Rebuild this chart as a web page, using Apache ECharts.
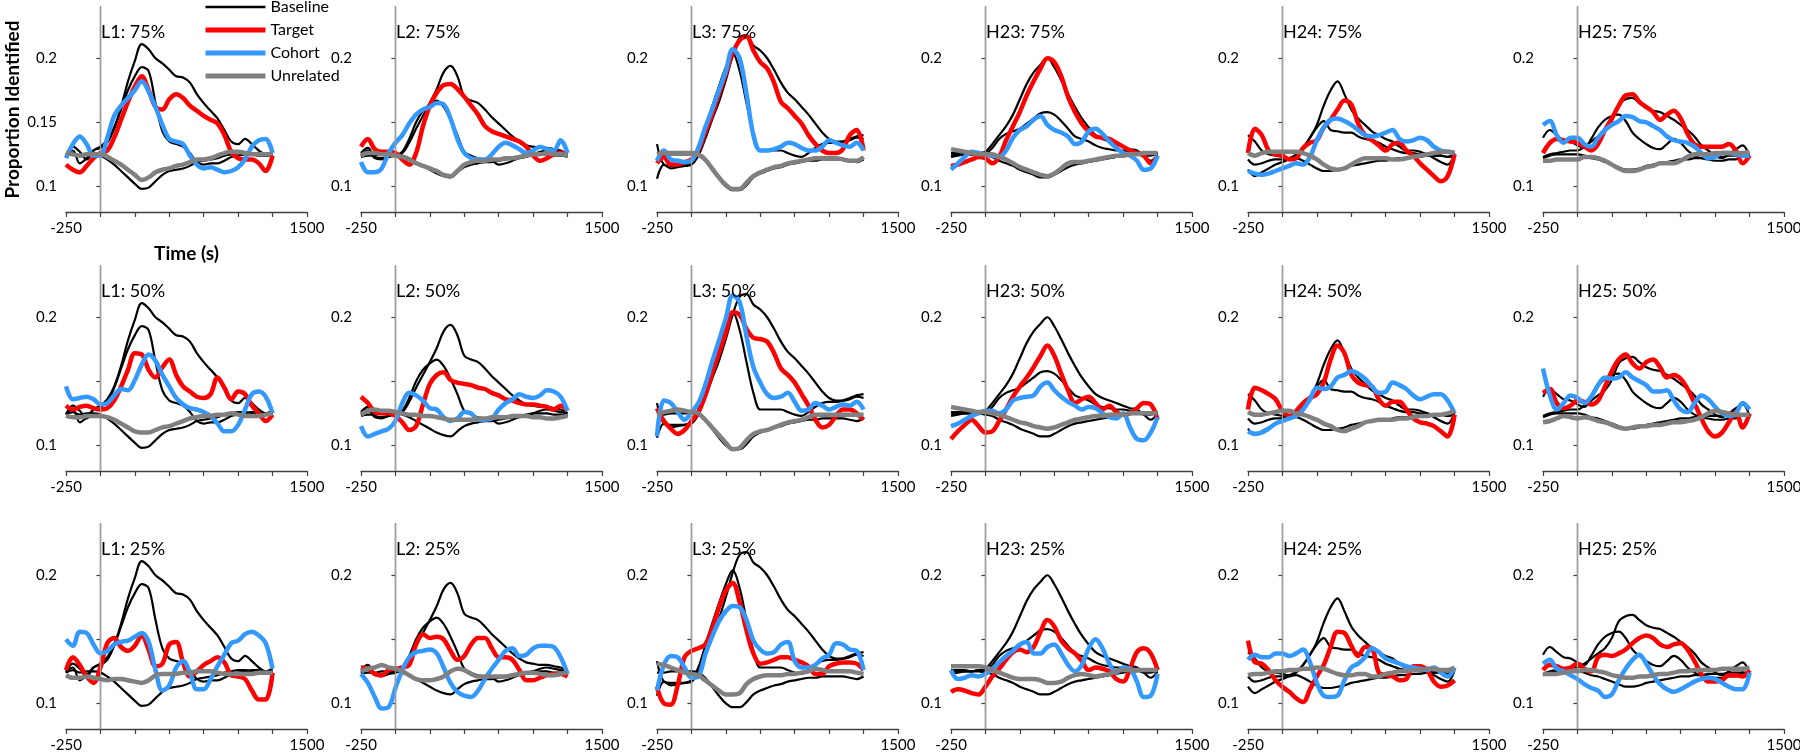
<!DOCTYPE html>
<html><head><meta charset="utf-8">
<script src="https://cdn.jsdelivr.net/npm/echarts@6/dist/echarts.min.js"></script>
<style>html,body{margin:0;padding:0;background:#fff;} #chart{width:1800px;height:752px;}</style>
</head><body><div id="chart"></div>
<script>
const timeMs = [-250,-200,-150,-100,-50,0,50,100,150,200,250,300,350,400,450,500,550,600,650,700,750,800,850,900,950,1000,1050,1100,1150,1200,1250];
const xTickLabels = ['-250','1500'];
const yTickValues = [0.1,0.15,0.2];
const columnNames = ['L1','L2','L3','H23','H24','H25'];
const rowLevels = ['75%','50%','25%'];
const seriesNames = ['Baseline','Target','Cohort','Unrelated'];

// Baselines (same in every row of a column): target, cohort, unrelated
const baseL1T = [.124,.131,.127,.121,.128,.131,.136,.146,.162,.182,.198,.211,.207,.200,.196,.191,.186,.185,.181,.172,.165,.159,.153,.144,.135,.133,.137,.133,.128,.125,.127];
const baseL1C = [.125,.128,.118,.122,.128,.130,.134,.145,.160,.175,.186,.193,.190,.165,.143,.135,.133,.131,.126,.119,.117,.118,.118,.120,.123,.124,.125,.126,.126,.124,.125];
const baseL1U = [.124,.126,.124,.125,.125,.124,.121,.117,.112,.107,.102,.098,.099,.104,.109,.112,.113,.114,.116,.119,.120,.121,.122,.124,.125,.126,.126,.125,.124,.124,.125];
const baseL2T = [.126,.130,.123,.122,.123,.125,.126,.134,.145,.155,.165,.176,.189,.194,.186,.170,.167,.165,.160,.154,.149,.144,.139,.135,.132,.131,.130,.130,.129,.128,.125];
const baseL2C = [.124,.128,.122,.121,.123,.124,.127,.137,.150,.159,.164,.167,.162,.152,.140,.127,.124,.122,.121,.120,.117,.118,.120,.122,.123,.125,.127,.128,.127,.126,.125];
const baseL2U = [.123,.124,.124,.125,.125,.125,.124,.122,.119,.116,.113,.110,.108,.107,.111,.115,.117,.118,.119,.119,.120,.121,.122,.123,.124,.125,.125,.125,.124,.124,.123];
const baseL3T = [.133,.117,.116,.116,.116,.117,.124,.137,.152,.166,.183,.202,.216,.218,.210,.206,.200,.191,.181,.173,.168,.162,.156,.149,.142,.137,.135,.135,.136,.138,.137];
const baseL3C = [.106,.117,.114,.115,.116,.118,.128,.145,.162,.178,.193,.204,.190,.165,.141,.128,.128,.128,.128,.126,.124,.123,.126,.130,.133,.134,.134,.135,.137,.139,.140];
const baseL3U = [.124,.124,.125,.125,.125,.125,.124,.120,.113,.106,.100,.097,.097,.101,.107,.110,.112,.114,.115,.117,.118,.119,.120,.120,.121,.121,.121,.121,.120,.119,.121];
const baseH23T = [.123,.124,.125,.125,.126,.127,.133,.140,.147,.156,.168,.180,.189,.195,.200,.193,.183,.172,.162,.153,.146,.140,.137,.135,.133,.131,.129,.128,.124,.120,.125];
const baseH23C = [.124,.125,.125,.125,.126,.126,.130,.137,.141,.143,.145,.149,.153,.157,.158,.156,.151,.145,.139,.137,.135,.132,.130,.129,.128,.128,.127,.126,.124,.124,.126];
const baseH23U = [.126,.126,.126,.125,.125,.124,.123,.120,.118,.116,.113,.111,.109,.107,.107,.109,.112,.115,.117,.118,.119,.120,.121,.122,.123,.124,.125,.125,.126,.126,.126];
const baseH24T = [.121,.117,.118,.120,.121,.121,.122,.125,.130,.138,.148,.163,.175,.182,.172,.160,.153,.148,.143,.140,.137,.135,.131,.128,.128,.127,.125,.122,.119,.117,.126];
const baseH24C = [.140,.135,.128,.125,.124,.123,.122,.124,.130,.138,.146,.151,.144,.143,.142,.142,.139,.137,.136,.134,.131,.129,.127,.126,.126,.125,.125,.124,.124,.123,.125];
const baseH24U = [.113,.108,.111,.114,.117,.119,.121,.122,.120,.117,.114,.112,.112,.113,.114,.116,.117,.118,.119,.120,.120,.121,.122,.122,.123,.123,.124,.124,.124,.123,.124];
const baseH25T = [.123,.125,.126,.127,.128,.128,.131,.135,.139,.143,.151,.164,.168,.169,.165,.161,.159,.158,.155,.152,.148,.144,.139,.132,.128,.124,.122,.125,.129,.132,.123];
const baseH25C = [.138,.144,.140,.136,.135,.132,.130,.137,.146,.152,.155,.156,.151,.142,.137,.133,.130,.129,.133,.137,.134,.128,.124,.122,.121,.120,.120,.121,.121,.124,.122];
const baseH25U = [.122,.124,.125,.125,.125,.125,.124,.122,.121,.119,.117,.115,.113,.113,.114,.116,.117,.118,.119,.120,.121,.121,.122,.122,.123,.123,.123,.124,.124,.124,.124];

// 75%
const L1_75_T = [.117,.113,.111,.116,.122,.126,.128,.138,.152,.166,.178,.186,.175,.162,.160,.168,.172,.169,.163,.159,.155,.152,.149,.140,.127,.122,.121,.121,.118,.112,.124];
const L1_75_C = [.122,.133,.139,.133,.124,.124,.138,.155,.163,.169,.175,.182,.174,.162,.148,.137,.135,.133,.124,.117,.114,.115,.113,.111,.112,.115,.121,.131,.136,.137,.126];
const L1_75_U = [.126,.125,.124,.125,.125,.125,.123,.120,.117,.113,.109,.105,.107,.111,.113,.114,.116,.117,.119,.121,.121,.122,.124,.126,.127,.127,.126,.125,.125,.125,.126];
const L2_75_T = [.131,.137,.129,.127,.127,.126,.121,.117,.126,.147,.163,.173,.179,.180,.176,.170,.163,.156,.147,.143,.141,.139,.137,.135,.131,.124,.120,.122,.125,.126,.125];
const L2_75_C = [.119,.111,.111,.114,.126,.134,.140,.149,.156,.160,.162,.165,.164,.153,.137,.126,.122,.121,.121,.125,.131,.134,.132,.129,.126,.128,.131,.129,.128,.136,.126];
const L2_75_U = [.124,.126,.126,.125,.125,.124,.123,.121,.118,.116,.114,.112,.109,.108,.112,.117,.119,.120,.120,.121,.121,.122,.122,.123,.124,.125,.125,.126,.125,.125,.124];
const L3_75_T = [.118,.123,.117,.117,.119,.121,.128,.142,.156,.172,.188,.204,.214,.217,.206,.197,.192,.181,.166,.161,.155,.149,.140,.133,.128,.126,.126,.129,.140,.144,.128];
const L3_75_C = [.120,.128,.121,.120,.119,.120,.130,.146,.160,.175,.190,.207,.200,.172,.140,.128,.128,.129,.131,.134,.133,.130,.128,.128,.131,.136,.134,.132,.131,.134,.128];
const L3_75_U = [.125,.126,.126,.126,.126,.126,.125,.121,.114,.107,.101,.098,.098,.103,.108,.111,.113,.115,.116,.118,.119,.120,.121,.122,.122,.122,.122,.121,.120,.120,.123];
const H23_75_T = [.116,.117,.119,.121,.123,.122,.118,.123,.136,.147,.158,.171,.182,.192,.200,.197,.186,.170,.158,.149,.143,.139,.138,.137,.134,.131,.128,.126,.124,.118,.124];
const H23_75_C = [.113,.118,.123,.127,.126,.125,.124,.123,.128,.138,.144,.147,.152,.155,.148,.144,.142,.139,.133,.135,.143,.145,.141,.135,.130,.126,.124,.120,.113,.114,.124];
const H23_75_U = [.129,.128,.127,.126,.125,.125,.125,.123,.121,.118,.115,.113,.111,.109,.108,.110,.114,.118,.119,.119,.120,.121,.122,.123,.124,.124,.125,.125,.126,.126,.126];
const H24_75_T = [.126,.145,.140,.128,.125,.124,.121,.122,.130,.134,.136,.146,.152,.160,.167,.164,.149,.140,.136,.132,.128,.133,.134,.128,.124,.118,.113,.108,.104,.108,.125];
const H24_75_C = [.112,.110,.109,.110,.112,.114,.116,.118,.117,.123,.136,.146,.152,.153,.151,.148,.144,.140,.139,.140,.142,.144,.137,.135,.136,.138,.136,.131,.128,.127,.126];
const H24_75_U = [.126,.124,.126,.127,.127,.127,.127,.127,.126,.124,.121,.117,.114,.113,.114,.117,.120,.122,.122,.122,.122,.121,.121,.122,.123,.124,.125,.126,.127,.127,.126];
const H25_75_T = [.126,.134,.137,.136,.135,.134,.131,.128,.133,.144,.153,.163,.171,.172,.166,.162,.158,.152,.156,.159,.153,.141,.133,.131,.131,.131,.131,.133,.128,.118,.124];
const H25_75_C = [.148,.151,.140,.134,.138,.138,.133,.131,.138,.144,.148,.151,.155,.154,.151,.150,.147,.144,.139,.136,.135,.134,.131,.126,.122,.123,.126,.126,.125,.124,.124];
const H25_75_U = [.120,.120,.121,.121,.121,.121,.123,.123,.122,.120,.117,.114,.112,.112,.113,.115,.116,.118,.118,.118,.120,.123,.125,.125,.125,.126,.126,.126,.126,.126,.127];

// 50%
const L1_50_T = [.131,.128,.130,.131,.129,.128,.129,.135,.146,.159,.172,.171,.159,.153,.161,.167,.155,.146,.142,.138,.137,.140,.153,.145,.136,.142,.140,.131,.125,.119,.124];
const L1_50_C = [.146,.136,.137,.138,.136,.132,.133,.139,.144,.143,.151,.163,.171,.166,.155,.146,.137,.132,.129,.128,.126,.123,.117,.111,.111,.116,.128,.140,.142,.138,.125];
const L1_50_U = [.123,.122,.122,.123,.123,.123,.122,.120,.117,.114,.111,.110,.110,.112,.114,.115,.117,.119,.121,.122,.123,.123,.124,.124,.125,.124,.123,.123,.123,.124,.125];
const L2_50_T = [.138,.133,.126,.125,.125,.123,.118,.112,.115,.132,.148,.155,.157,.151,.149,.148,.147,.145,.144,.141,.139,.136,.135,.133,.132,.132,.131,.130,.128,.131,.127];
const L2_50_C = [.115,.107,.109,.111,.113,.119,.133,.141,.139,.135,.129,.128,.122,.119,.121,.126,.125,.120,.120,.121,.128,.133,.136,.140,.138,.137,.139,.143,.142,.138,.127];
const L2_50_U = [.124,.127,.128,.127,.127,.126,.125,.124,.124,.123,.123,.122,.121,.120,.120,.120,.120,.121,.121,.122,.122,.122,.123,.123,.123,.122,.122,.121,.121,.122,.123];
const L3_50_T = [.129,.119,.113,.109,.112,.119,.126,.139,.156,.172,.188,.204,.202,.191,.184,.183,.181,.172,.160,.155,.149,.140,.131,.120,.114,.116,.123,.128,.128,.125,.120];
const L3_50_C = [.107,.135,.133,.126,.120,.126,.133,.147,.165,.182,.199,.217,.212,.185,.161,.149,.140,.137,.138,.141,.134,.127,.128,.133,.131,.128,.130,.132,.131,.134,.128];
const L3_50_U = [.124,.126,.127,.128,.127,.126,.125,.120,.114,.108,.102,.097,.098,.104,.109,.111,.112,.114,.116,.118,.119,.120,.122,.124,.124,.124,.124,.124,.124,.124,.124];
const H23_50_T = [.105,.111,.116,.120,.115,.110,.111,.119,.128,.138,.146,.153,.161,.170,.178,.170,.156,.143,.133,.136,.138,.133,.128,.131,.126,.124,.125,.129,.133,.132,.120];
const H23_50_C = [.115,.117,.120,.123,.125,.127,.127,.125,.128,.135,.137,.138,.139,.146,.149,.143,.138,.134,.131,.128,.130,.129,.125,.122,.121,.125,.114,.105,.104,.110,.122];
const H23_50_U = [.130,.129,.128,.127,.126,.126,.125,.124,.122,.120,.118,.117,.115,.114,.113,.114,.116,.118,.120,.121,.122,.123,.123,.124,.124,.124,.125,.125,.125,.125,.125];
const H24_50_T = [.128,.145,.143,.140,.136,.127,.123,.127,.133,.137,.140,.149,.167,.178,.172,.155,.149,.147,.146,.136,.131,.134,.134,.128,.121,.118,.117,.115,.111,.107,.124];
const H24_50_C = [.111,.109,.110,.113,.117,.119,.121,.123,.128,.136,.145,.144,.146,.153,.155,.158,.156,.152,.146,.141,.142,.149,.147,.144,.139,.136,.138,.140,.140,.135,.125];
const H24_50_U = [.126,.124,.124,.125,.126,.127,.127,.125,.124,.122,.120,.117,.115,.112,.111,.113,.115,.118,.119,.120,.120,.120,.121,.121,.122,.123,.123,.124,.124,.125,.127];
const H25_50_T = [.141,.144,.133,.129,.131,.135,.134,.132,.135,.146,.158,.167,.171,.164,.160,.165,.167,.161,.153,.155,.152,.144,.133,.121,.111,.107,.110,.118,.126,.114,.125];
const H25_50_C = [.160,.139,.128,.133,.139,.137,.133,.138,.147,.153,.152,.153,.157,.153,.150,.147,.142,.142,.143,.135,.128,.126,.133,.139,.136,.130,.125,.123,.125,.133,.128];
const H25_50_U = [.118,.119,.121,.123,.122,.121,.122,.121,.119,.118,.116,.114,.113,.114,.115,.115,.116,.116,.117,.118,.118,.119,.120,.122,.125,.127,.126,.125,.124,.124,.124];

// 25%
const L1_25_T = [.126,.136,.130,.121,.116,.128,.147,.151,.144,.141,.145,.153,.142,.129,.131,.146,.148,.132,.121,.125,.130,.133,.136,.132,.122,.121,.119,.110,.103,.103,.124];
const L1_25_C = [.150,.145,.156,.155,.146,.139,.141,.146,.148,.149,.152,.155,.148,.126,.110,.114,.128,.133,.124,.111,.111,.119,.129,.138,.147,.149,.154,.156,.153,.147,.127];
const L1_25_U = [.122,.120,.120,.121,.120,.119,.118,.119,.119,.118,.117,.116,.118,.122,.123,.123,.123,.124,.124,.125,.125,.125,.124,.123,.123,.123,.123,.123,.124,.124,.124];
const L2_25_T = [.128,.127,.123,.122,.126,.127,.128,.130,.146,.154,.151,.152,.150,.141,.134,.137,.146,.151,.151,.143,.136,.136,.134,.126,.118,.118,.120,.122,.123,.123,.121];
const L2_25_C = [.123,.116,.105,.096,.097,.112,.126,.136,.140,.141,.142,.139,.128,.116,.109,.106,.105,.110,.119,.127,.134,.141,.143,.137,.138,.143,.145,.145,.144,.136,.123];
const L2_25_U = [.125,.127,.128,.130,.128,.127,.125,.122,.119,.118,.118,.119,.121,.125,.127,.126,.123,.121,.121,.121,.121,.121,.122,.123,.124,.124,.123,.122,.122,.123,.124];
const L3_25_T = [.113,.100,.099,.114,.136,.141,.143,.146,.158,.175,.188,.194,.179,.157,.139,.131,.132,.134,.136,.136,.134,.132,.129,.123,.123,.129,.131,.132,.132,.131,.126];
const L3_25_C = [.110,.130,.137,.136,.128,.120,.121,.138,.152,.164,.172,.176,.175,.165,.149,.142,.139,.140,.146,.148,.133,.128,.128,.130,.135,.138,.147,.146,.142,.141,.126];
const L3_25_U = [.131,.130,.128,.126,.124,.123,.122,.118,.114,.110,.107,.107,.108,.115,.119,.121,.122,.122,.122,.123,.123,.124,.125,.127,.126,.125,.125,.125,.125,.124,.123];
const H23_25_T = [.109,.111,.110,.108,.107,.113,.121,.127,.134,.140,.142,.140,.144,.156,.165,.160,.149,.143,.139,.133,.126,.128,.127,.125,.119,.117,.127,.140,.143,.139,.126];
const H23_25_C = [.126,.119,.120,.122,.121,.123,.127,.132,.137,.141,.146,.148,.139,.139,.144,.146,.139,.130,.125,.130,.143,.150,.143,.131,.124,.128,.127,.117,.105,.106,.123];
const H23_25_U = [.129,.129,.129,.129,.129,.128,.126,.124,.122,.120,.119,.119,.119,.118,.116,.116,.117,.120,.122,.123,.122,.121,.122,.123,.125,.126,.126,.126,.126,.126,.126];
const H24_25_T = [.149,.132,.131,.126,.118,.113,.109,.104,.101,.111,.121,.130,.144,.156,.155,.145,.137,.144,.143,.124,.122,.121,.118,.119,.129,.129,.126,.117,.113,.114,.118];
const H24_25_C = [.134,.138,.136,.136,.139,.139,.137,.139,.142,.132,.116,.106,.105,.106,.118,.128,.131,.136,.143,.140,.135,.133,.131,.129,.128,.127,.126,.128,.124,.121,.128];
const H24_25_U = [.122,.123,.123,.124,.125,.125,.126,.126,.127,.127,.128,.127,.125,.123,.122,.122,.123,.123,.121,.121,.123,.124,.125,.125,.126,.126,.127,.127,.126,.126,.128];
const H25_25_T = [.126,.130,.129,.127,.128,.131,.127,.125,.136,.138,.137,.139,.142,.147,.151,.153,.151,.146,.144,.146,.147,.142,.133,.123,.117,.117,.118,.122,.122,.121,.126];
const H25_25_C = [.131,.134,.127,.125,.122,.119,.115,.112,.110,.105,.107,.118,.127,.134,.138,.131,.122,.115,.111,.109,.111,.114,.117,.119,.120,.119,.116,.113,.111,.111,.124];
const H25_25_U = [.123,.123,.123,.124,.125,.125,.126,.126,.125,.124,.122,.121,.120,.120,.121,.121,.122,.123,.123,.124,.125,.125,.126,.126,.126,.126,.127,.127,.127,.127,.128];

const baselineByColumn = {
  L1:[baseL1T,baseL1C,baseL1U], L2:[baseL2T,baseL2C,baseL2U], L3:[baseL3T,baseL3C,baseL3U],
  H23:[baseH23T,baseH23C,baseH23U], H24:[baseH24T,baseH24C,baseH24U], H25:[baseH25T,baseH25C,baseH25U]
};
const panelData = {
  'L1 75%':[L1_75_T,L1_75_C,L1_75_U], 'L2 75%':[L2_75_T,L2_75_C,L2_75_U], 'L3 75%':[L3_75_T,L3_75_C,L3_75_U],
  'H23 75%':[H23_75_T,H23_75_C,H23_75_U], 'H24 75%':[H24_75_T,H24_75_C,H24_75_U], 'H25 75%':[H25_75_T,H25_75_C,H25_75_U],
  'L1 50%':[L1_50_T,L1_50_C,L1_50_U], 'L2 50%':[L2_50_T,L2_50_C,L2_50_U], 'L3 50%':[L3_50_T,L3_50_C,L3_50_U],
  'H23 50%':[H23_50_T,H23_50_C,H23_50_U], 'H24 50%':[H24_50_T,H24_50_C,H24_50_U], 'H25 50%':[H25_50_T,H25_50_C,H25_50_U],
  'L1 25%':[L1_25_T,L1_25_C,L1_25_U], 'L2 25%':[L2_25_T,L2_25_C,L2_25_U], 'L3 25%':[L3_25_T,L3_25_C,L3_25_U],
  'H23 25%':[H23_25_T,H23_25_C,H23_25_U], 'H24 25%':[H24_25_T,H24_25_C,H24_25_U], 'H25 25%':[H25_25_T,H25_25_C,H25_25_U]
};

const FONT = 'Lato, "Open Sans", sans-serif';
const colLeft = [66,361,657,951,1248,1543];
const rowTop = [7,266,524];
const GW = 241, GH = 205;
const COLORS = {Baseline:'#000000', Target:'#ff0000', Cohort:'#3399ff', Unrelated:'#808080'};
const AXIS_COLOR = '#404040';

const toPairs = arr => timeMs.map((t,i)=>[t, arr[i]]);

const grid=[], xAxis=[], yAxis=[], series=[], title=[];
rowLevels.forEach((lvl,r)=>{
  columnNames.forEach((col,c)=>{
    const k = r*6+c;
    grid.push({left:colLeft[c], top:rowTop[r], width:GW, height:GH, outerBoundsMode:'none'});
    xAxis.push({
      type:'value', gridIndex:k, min:-250, max:1500, interval:250,
      axisLine:{lineStyle:{color:AXIS_COLOR, width:1.3}},
      axisTick:{show:true, length:5, lineStyle:{color:AXIS_COLOR, width:1.2}},
      splitLine:{show:false},
      axisLabel:{formatter:v=>xTickLabels.includes(String(v))?String(v):'', showMinLabel:true, showMaxLabel:true, hideOverlap:false,
        margin:9, fontSize:15, color:'#000', fontFamily:FONT},
      name: k===0 ? 'Time (s)' : '', nameLocation:'middle', nameGap:32,
      nameTextStyle:{fontSize:19, fontWeight:'bold', color:'#000', fontFamily:FONT}
    });
    yAxis.push({
      type:'value', gridIndex:k, min:0.08, max:0.24,
      axisLine:{show:true, lineStyle:{color:AXIS_COLOR, width:1.3}},
      axisTick:{show:true, length:4, customValues:yTickValues, lineStyle:{color:AXIS_COLOR, width:1.2}},
      splitLine:{show:false},
      axisLabel:{customValues: k===0 ? yTickValues : [0.1,0.2], formatter:v=> (Math.abs(v-0.15)<1e-9 ? '0.15' : v.toFixed(1)),
        margin:9, fontSize:15, color:'#000', fontFamily:FONT},
      name: k===0 ? 'Proportion Identified' : '', nameLocation:'middle', nameGap:44, nameRotate:90,
      nameTextStyle:{fontSize:19, fontWeight:'bold', color:'#000', fontFamily:FONT}
    });
    title.push({text: col + ': ' + lvl, left: colLeft[c]+35, top: rowTop[r]+16, padding:0,
      textStyle:{fontSize:18, fontWeight:'normal', color:'#000', fontFamily:FONT}});
    const bases = baselineByColumn[col];
    bases.forEach((b,bi)=>{
      const s = {name:'Baseline', type:'line', xAxisIndex:k, yAxisIndex:k, data:toPairs(b), symbol:'none', smooth:0.35,
        lineStyle:{color:COLORS.Baseline, width:2.2}, itemStyle:{color:COLORS.Baseline}, silent:true, z:2};
      if (bi===0) {
        s.markLine = {silent:true, symbol:'none', label:{show:false}, animation:false,
          lineStyle:{color:'#a0a0a0', width:1.3, type:'solid'}, data:[{xAxis:0}]};
      }
      series.push(s);
    });
    const pd = panelData[col + ' ' + lvl];
    ['Target','Cohort','Unrelated'].forEach((nm,ni)=>{
      series.push({name:nm, type:'line', xAxisIndex:k, yAxisIndex:k, data:toPairs(pd[ni]), symbol:'none', smooth:0.35,
        lineStyle:{color:COLORS[nm], width:4.5}, itemStyle:{color:COLORS[nm]}, silent:true, z:3+ni});
    });
  });
});

const chart = echarts.init(document.getElementById('chart'), null, {renderer:'canvas'});
chart.setOption({
  animation:false,
  backgroundColor:'#ffffff',
  title, grid, xAxis, yAxis, series,
  legend:{orient:'vertical', left:203, top:-1, padding:0, itemWidth:60, itemHeight:12, itemGap:7, selectedMode:false,
    itemStyle:{opacity:0, borderWidth:0},
    textStyle:{fontSize:16, color:'#000', fontFamily:FONT, lineHeight:16},
    data:[
      {name:'Baseline', itemStyle:{opacity:0, borderWidth:0}, lineStyle:{color:COLORS.Baseline, width:2.5}},
      {name:'Target', itemStyle:{opacity:0, borderWidth:0}, lineStyle:{color:COLORS.Target, width:5}},
      {name:'Cohort', itemStyle:{opacity:0, borderWidth:0}, lineStyle:{color:COLORS.Cohort, width:5}},
      {name:'Unrelated', itemStyle:{opacity:0, borderWidth:0}, lineStyle:{color:COLORS.Unrelated, width:5}}
    ]}
});
</script>
</body></html>
